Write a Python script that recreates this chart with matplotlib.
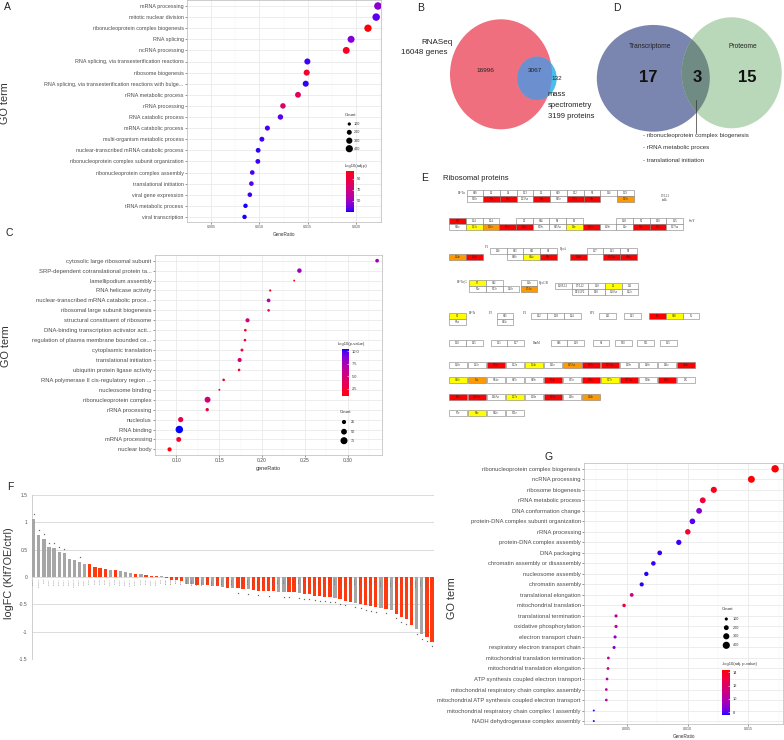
import numpy as np
import matplotlib
matplotlib.use("Agg")
import matplotlib.pyplot as plt
from matplotlib.colors import ListedColormap, Normalize
from matplotlib.patches import Ellipse, Rectangle
from matplotlib.cm import ScalarMappable

# ======================= DATA =======================
# Panel A (GO enrichment, transcriptome)
terms_A = ["mRNA processing", "mitotic nuclear division", "ribonucleoprotein complex biogenesis",
           "RNA splicing", "ncRNA processing", "RNA splicing, via transesterification reactions",
           "ribosome biogenesis", "RNA splicing, via transesterification reactions with bulge...",
           "rRNA metabolic process", "rRNA processing", "RNA catabolic process", "mRNA catabolic process",
           "multi-organism metabolic process", "nuclear-transcribed mRNA catabolic process",
           "ribonucleoprotein complex subunit organization", "ribonucleoprotein complex assembly",
           "translational initiation", "viral gene expression", "tRNA metabolic process", "viral transcription"]
ratio_A = [0.02228, 0.0221, 0.02125, 0.0195, 0.0190, 0.01497, 0.0149, 0.0148, 0.0140, 0.01244,
           0.01218, 0.01083, 0.01026, 0.00987, 0.00984, 0.00926, 0.00917, 0.00901, 0.00856, 0.00846]
count_A = [434, 431, 414, 380, 371, 292, 291, 289, 273, 243, 238, 211, 200, 192, 192, 181, 179, 176, 167, 165]
score_A = [45, 36, 104, 43, 99, 33, 97, 32, 82, 78, 36, 34, 33, 32, 33, 34, 36, 33, 31, 31]

# Panel C (GO enrichment, proteome)
terms_C = ["cytosolic large ribosomal subunit", "SRP-dependent cotranslational protein ta...",
           "lamellipodium assembly", "RNA helicase activity", "nuclear-transcribed mRNA catabolic proce...",
           "ribosomal large subunit biogenesis", "structural constituent of ribosome",
           "DNA-binding transcription activator acti...", "regulation of plasma membrane bounded ce...",
           "cytoplasmic translation", "translational initiation", "ubiquitin protein ligase activity",
           "RNA polymerase II cis-regulatory region ...", "nucleosome binding", "ribonucleoprotein complex",
           "rRNA processing", "nucleolus", "RNA binding", "mRNA processing", "nuclear body"]
ratio_C = [0.3345, 0.2437, 0.2376, 0.2096, 0.2077, 0.2077, 0.1831, 0.1805, 0.1801, 0.1766,
           0.1739, 0.1732, 0.1552, 0.1502, 0.1364, 0.1360, 0.1050, 0.1034, 0.1027, 0.0920]
count_C = [19, 29, 3, 5, 19, 8, 24, 8, 8, 11, 24, 8, 8, 3, 53, 15, 40, 85, 35, 24]
score_C = [8.0, 7.8, 1.5, 1.8, 7.0, 2.5, 5.0, 1.7, 1.7, 2.8, 4.5, 1.7, 1.8, 1.3, 5.0, 2.8, 3.0, 10.4, 2.0, 1.2]

# Panel G (GO enrichment)
terms_G = ["ribonucleoprotein complex biogenesis", "ncRNA processing", "ribosome biogenesis",
           "rRNA metabolic process", "DNA conformation change", "protein-DNA complex subunit organization",
           "rRNA processing", "protein-DNA complex assembly", "DNA packaging",
           "chromatin assembly or disassembly", "nucleosome assembly", "chromatin assembly",
           "translational elongation", "mitochondrial translation", "translational termination",
           "oxidative phosphorylation", "electron transport chain", "respiratory electron transport chain",
           "mitochondrial translation termination", "mitochondrial translation elongation",
           "ATP synthesis coupled electron transport", "mitochondrial respiratory chain complex assembly",
           "mitochondrial ATP synthesis coupled electron transport",
           "mitochondrial respiratory chain complex I assembly", "NADH dehydrogenase complex assembly"]
ratio_G = [0.0172, 0.01525, 0.01216, 0.01125, 0.01095, 0.0104, 0.01002, 0.00928, 0.00771, 0.00719,
           0.00661, 0.00623, 0.00541, 0.00478, 0.00412, 0.00412, 0.00404, 0.00396, 0.00349, 0.00346,
           0.00338, 0.00332, 0.00332, 0.00229, 0.00229]
count_G = [425, 377, 300, 278, 270, 257, 247, 229, 190, 178, 163, 154, 134, 118, 102, 102, 100, 98,
           86, 85, 83, 82, 82, 57, 57]
score_G = [14.3, 14.2, 14.0, 13.2, 8.8, 8.0, 13.5, 7.8, 7.8, 7.8, 7.7, 7.7, 11.0, 13.2, 10.3, 10.6,
           9.0, 8.8, 10.6, 10.6, 10.0, 10.5, 10.0, 7.8, 7.7]

# Panel B Venn
venn_B_only_rna = 16996
venn_B_both = 3067
venn_B_only_ms = 132
# Panel D Venn
venn_D_trans = 17
venn_D_both = 3
venn_D_prot = 15
shared_terms_D = ["ribonucleoprotein complex biogenesis", "rRNA metabolic proces", "translational initiation"]

# Panel E ribosome map (highlighted proteins)
red_E = {"L3e", "L4e", "L8e", "L17e", "S3e", "S17", "L21e", "L11e", "L32e", "S2e", "L7e", "L14e",
         "S9e", "L18e", "L13Ae", "S16e", "L9", "L15e", "L37e", "L37Ae", "L44e", "S24e", "S26e",
         "S27Ae", "S30e", "L6e", "L18Ae", "L29e"}
orange_E = {"L35e", "L26e", "L34e", "L7Ae", "S6e", "L35Ae", "L38e"}
yellow_E = {"L23e", "L9e", "S14e", "S7", "L1", "S2", "S18", "L24e", "S10e", "S27e", "L27e", "S8e"}
row1_top = ["S10", "L3", "L4", "L23", "L2", "S19", "L22", "S3", "L16", "L29"]
row1_bot = ["S20e", "L3e", "L4e", "L23Ae", "L8e", "S15e", "L17e", "S3e", None, "L35e"]
row2_top = ["S17", "L14", "L24", None, "L5", "S14", "S8", "L6", None, None, "L18", "S5", "L30", "L15"]
row2_bot = ["S11e", "L23e", "L26e", "L21e", "L11e", "S29e", "S15Ae", "L9e", "L32e", "L19e", "L5e",
            "S2e", "L7e", "L27Ae"]
row3a_bot = ["L34e", "L14e"]
row3b_top = ["L36", "S13", "S11", "S4"]
row3b_bot = [None, "S18e", "S14e", "S9e"]
row3c_top = [None, "L17", "L13", "S9"]
row3c_bot = ["L18e", None, "L13Ae", "S16e"]
row4a_top = ["S7", "S12", None]
row4a_bot = ["S5e", "S23e", "L30e"]
row4b_top = ["L1b"]
row4b_bot = ["L7Ae"]
row4c_top = ["L10/L12", "L7/L12", "L10", "L1", "L11"]
row4c_bot = [None, "LP1/LP2", "LP0", "L10Ae", "L12e"]
row5_singles = [["L32", "L28", "L34"], ["L31"], ["L33"], ["L9", "S18", "S6"]]
row6_singles = [["L20", "L35"], ["L21", "L27"], ["S16", "L19"], ["S1"], ["S20"], ["S21"], ["L25"]]
row7 = ["L10e", "L13e", "L15e", "L22e", "L24e", "L31e", "L35Ae", "L37e", "L37Ae", "L39e", "L40e", "L41e", "L44e"]
row8 = ["S10e", "S6e", "S3Ae", "S17e", "S19e", "S24e", "S25e", "S26e", "S27e", "S27Ae", "S28e", "S30e", "LX"]
row9 = ["L6e", "L18Ae", "L36Ae", "L27e", "L28e", "L29e", "L36e", "L38e"]
row10 = ["S7e", "S8e", "S12e", "S21e"]

# Panel F (logFC of ribosomal genes)
fc_genes = ["RPS29", "RPS6KA3", "RPS6", "RPS12", "RPS18", "RPS27", "RPS21", "RPS4X", "RPS6KA4", "RPS10",
            "RPS15", "RPL13", "RPL22", "RPL35", "RPL31", "RPS24", "RPL18", "RPS13", "RPS23", "RPS27A",
            "RPLP1", "RPL15", "RPL36", "RPLP2", "RPS19", "RPL3", "RPL37", "RPL39", "RPS3", "RPS11",
            "RPS8", "RPS16", "RPS14", "RPS25", "RPL7", "RPS17", "RPS9", "RPL10", "RPS26", "RPL11",
            "RPL36A", "RPS5", "RPL32", "RPS28", "RPL27", "RPS20", "RPL23", "RPL26", "RPL4", "RPS7",
            "RPL29", "RPL34", "RPS2", "RPL12", "RPL13A", "RPL14", "RPS3A", "RPL9", "RPL24", "RPL30",
            "RPL6", "RPL18A", "RPL8", "RPL19", "RPL28", "RPL37A", "RPL21", "RPL38", "RPL35A", "RPL41",
            "RPL27A", "RPL10A", "RPL5", "RPL7A", "RPL17", "RPL26L1", "RPLP0", "RPL22L1", "RPL39L"]
fc_values = [1.07, 0.77, 0.70, 0.54, 0.53, 0.46, 0.43, 0.33, 0.32, 0.28, 0.24, 0.24, 0.18, 0.16, 0.15,
             0.13, 0.12, 0.11, 0.09, 0.07, 0.06, 0.05, 0.03, 0.025, 0.02, 0.01,
             -0.02, -0.05, -0.06, -0.07, -0.12, -0.13, -0.14, -0.15, -0.15, -0.17, -0.17, -0.18, -0.20,
             -0.20, -0.21, -0.22, -0.22, -0.23, -0.25, -0.26, -0.26, -0.26, -0.27, -0.28, -0.28, -0.28,
             -0.29, -0.31, -0.32, -0.34, -0.35, -0.36, -0.37, -0.38, -0.40, -0.43, -0.45, -0.47, -0.49,
             -0.51, -0.53, -0.55, -0.57, -0.58, -0.60, -0.67, -0.73, -0.77, -0.87, -0.95, -1.05, -1.09, -1.18]
fc_group = list("ggggggggggg" "rrrr" "g" "r" "ggg" "r" "g" "rrr" "g"
                "rrrr" "gg" "r" "g" "r" "g" "r" "g" "r" "g" "rr" "g" "rrrrr" "gg" "rr" "g"
                "rrrrrr" "g" "rrr" "g" "rrrr" "g" "r" "g" "rrrr" "gg" "rr")
fc_sig = [1, 1, 1, 1, 1, 1, 1, 0, 0, 1, 0, 0, 0, 0, 0, 0, 0, 0, 0, 0, 0, 0, 0, 0, 0, 0,
          0, 0, 0, 0, 0, 0, 0, 0, 0, 0, 0, 0, 0, 0, 1, 0, 1, 0, 1, 0, 1, 0, 0, 1, 1, 0,
          1, 1, 1, 1, 1, 1, 1, 1, 1, 1, 0, 1, 1, 1, 1, 1, 0, 1, 0, 1, 1, 1, 0, 1, 1, 1, 1]
fc_yticks = [-1.5, -1, -0.5, 0, 0.5, 1, 1.5]
fc_yticklabels = ["-1.5", "-1", "-0.5", "0", "0.5", "1", "1.5"]

# ======================= FIGURE =======================
W, H = 784, 740
plt.rcParams['font.family'] = ['Liberation Sans', 'DejaVu Sans']
fig = plt.figure(figsize=(W / 100, H / 100), dpi=100)


def ax_px(x0, y0, x1, y1, **kw):
    return fig.add_axes([x0 / W, 1 - y1 / H, (x1 - x0) / W, (y1 - y0) / H], **kw)


# overlay axes in pixel coordinates
ov = ax_px(0, 0, W, H)
ov.set_xlim(0, W)
ov.set_ylim(H, 0)
ov.axis('off')
ov.set_zorder(10)
ov.patch.set_visible(False)

# ggplot-like blue->red gradient (interpolated in CIELAB)
_M = np.array([[0.4124, 0.3576, 0.1805], [0.2126, 0.7152, 0.0722], [0.0193, 0.1192, 0.9505]])
_WP = np.array([0.95047, 1.0, 1.08883])


def srgb_to_lab(rgb):
    c = np.asarray(rgb, float)
    lin = np.where(c <= 0.04045, c / 12.92, ((c + 0.055) / 1.055) ** 2.4)
    t = (_M @ lin) / _WP
    f = np.where(t > (6 / 29) ** 3, np.cbrt(t), t / (3 * (6 / 29) ** 2) + 4 / 29)
    return np.array([116 * f[1] - 16, 500 * (f[0] - f[1]), 200 * (f[1] - f[2])])


def lab_to_srgb(lab):
    L, a, b = lab
    fy = (L + 16) / 116
    f = np.array([fy + a / 500, fy, fy - b / 200])
    t = np.where(f > 6 / 29, f ** 3, 3 * (6 / 29) ** 2 * (f - 4 / 29))
    lin = np.clip(np.linalg.inv(_M) @ (t * _WP), 0, 1)
    c = np.where(lin <= 0.0031308, 12.92 * lin, 1.055 * lin ** (1 / 2.4) - 0.055)
    return np.clip(c, 0, 1)


_lb, _lr = srgb_to_lab([0, 0, 1]), srgb_to_lab([1, 0, 0])
cmap = ListedColormap([lab_to_srgb(_lb + t * (_lr - _lb)) for t in np.linspace(0, 1, 256)])
cmap_r = cmap.reversed()

TXT = '#4d4d4d'


def dotplot(box, rows_px, terms, ratio, count, score, xlim, xticks, xtl, tickfs, labfs,
            xlabel, xlabfs, vlim, s_a, s_b, cm):
    x0, y0, x1, y1 = box
    r0, step = rows_px
    ax = ax_px(x0, y0, x1, y1)
    y = np.arange(len(terms))
    sizes = np.clip(s_a + s_b * np.array(count, float), 0.8, None)
    ax.scatter(ratio, y, s=sizes, c=score, cmap=cm, vmin=vlim[0], vmax=vlim[1],
               edgecolors='none', zorder=3)
    ax.set_yticks(y)
    ax.set_yticklabels(terms, fontsize=labfs, color=TXT)
    ax.set_ylim((y1 - r0) / step, (y0 - r0) / step)
    ax.set_xlim(*xlim)
    ax.set_xticks(xticks)
    ax.set_xticklabels(xtl, fontsize=tickfs, color=TXT)
    mids = [(a + b) / 2 for a, b in zip(xticks[:-1], xticks[1:])]
    d = xticks[1] - xticks[0]
    ax.set_xticks([xticks[0] - d / 2] + mids + [xticks[-1] + d / 2], minor=True)
    ax.grid(True, which='major', color='#e6e6e6', lw=0.5)
    ax.grid(True, which='minor', axis='x', color='#f3f3f3', lw=0.35)
    ax.set_axisbelow(True)
    ax.tick_params(axis='both', which='major', length=1.5, width=0.4, color='#444444', pad=1)
    ax.tick_params(which='minor', length=0)
    for sp in ax.spines.values():
        sp.set_color('#b8b8b8')
        sp.set_linewidth(0.5)
    ax.set_xlabel(xlabel, fontsize=xlabfs, labelpad=1.5, color='#333333')
    return ax


def colorbar(box, vlim, ticks, tlabels, title, title_xy, cm):
    cax = ax_px(*box)
    sm = ScalarMappable(norm=Normalize(*vlim), cmap=cm)
    cb = fig.colorbar(sm, cax=cax)
    cb.outline.set_visible(False)
    cb.set_ticks(ticks)
    cb.set_ticklabels(tlabels)
    cax.tick_params(length=1.2, width=0.4, color='white', direction='in', labelsize=2.8,
                    pad=1.8, labelcolor='#333333')
    ov.text(title_xy[0], title_xy[1], title, fontsize=3.0, ha='left', va='center', color='#333333')
    return cax


def size_legend(title_xy, vals, ys, dot_x, lab_x, s_a, s_b):
    ov.text(title_xy[0], title_xy[1], "Count", fontsize=3.2, ha='left', va='center', color='#333333')
    ov.scatter([dot_x] * len(vals), ys, s=s_a + s_b * np.array(vals, float), color='black',
               edgecolors='none')
    for v, yy in zip(vals, ys):
        ov.text(lab_x, yy, str(v), fontsize=2.7, ha='left', va='center', color='#333333')


# ---------------- Panel A ----------------
sA = (-1.6, 0.071)
dotplot((187, 0, 381, 222), (6, 11.1), terms_A, ratio_A, count_A, score_A,
        (0.00394, 0.0226), [0.005, 0.010, 0.015, 0.020], ["0.005", "0.010", "0.015", "0.020"],
        2.6, 3.9, "GeneRatio", 3.3, (30.5, 105), *sA, cmap)
size_legend((345, 115), [100, 200, 300, 400], [124, 132.3, 140.7, 148.7], 349.3, 354, *sA)
colorbar((345.7, 170.7, 354, 211.7), (30.5, 105), [50, 70, 90], ["50", "70", "90"],
         "-log10(adj.p)", (345, 165.5), cmap)

# ---------------- Panel C ----------------
sC = (0.9, 0.33)
dotplot((155, 255, 382, 455), (260.7, 9.93), terms_C, ratio_C, count_C, score_C,
        (0.0793, 0.3402), [0.10, 0.15, 0.20, 0.25, 0.30], ["0.10", "0.15", "0.20", "0.25", "0.30"],
        3.6, 4.2, "geneRatio", 4.0, (1.0, 10.4), *sC, cmap_r)
colorbar((341.7, 349.3, 349, 396), (1.0, 10.4), [2.5, 5.0, 7.5, 10.0], ["2.5", "5.0", "7.5", "10.0"],
         "-log10(p-value)", (338, 344), cmap_r)
size_legend((340, 411.7), [25, 50, 75], [422, 431.7, 440.7], 344, 351, *sC)

# ---------------- Panel G ----------------
sG = (-2.1, 0.072)
dotplot((584.3, 462.7, 783, 724), (468.8, 10.51), terms_G, ratio_G, count_G, score_G,
        (0.00151, 0.01785), [0.005, 0.010, 0.015], ["0.005", "0.010", "0.015"],
        2.6, 4.2, "GeneRatio", 3.3, (7.6, 14.35), *sG, cmap)
size_legend((722, 609), [100, 200, 300, 400], [619, 627.7, 636.3, 645.3], 726.3, 733, *sG)
colorbar((721.7, 670, 730, 715), (7.6, 14.35), [8, 10, 12, 14], ["8", "10", "12", "14"],
         "-log10(adj. p-value)", (722, 664), cmap)

# ---------------- Panel F ----------------
axF = ax_px(31.7, 495, 434, 659)
xF = np.arange(len(fc_values))
valsF = np.array(fc_values)
colF = ['#a6a6a6' if g == 'g' else '#ff3a10' for g in fc_group]
axF.bar(xF, valsF, width=0.64, color=colF, zorder=3)
sig = np.array(fc_sig, bool)
axF.scatter(xF[sig], valsF[sig] + np.sign(valsF[sig]) * 0.085, marker='*', s=2.5,
            color='#555555', linewidths=0, zorder=4)
for xi, (g, v) in enumerate(zip(fc_genes, fc_values)):
    axF.text(xi, -0.02, g, rotation=90, fontsize=1.5, ha='center', va='top',
             color='#8a8a8a' if v > 0 else '#5a5a5a', zorder=5)
axF.set_xlim(-0.39, 78.39)
axF.set_ylim(-1.5, 1.5)
axF.set_yticks(fc_yticks)
axF.set_yticklabels(fc_yticklabels, fontsize=3.6, color='#555555')
axF.set_xticks([])
axF.grid(True, axis='y', color='#d6d6d6', lw=0.6)
axF.set_axisbelow(True)
axF.tick_params(axis='y', length=0, pad=3)
for k in ('top', 'right', 'bottom'):
    axF.spines[k].set_visible(False)
axF.spines['left'].set_color('#c8c8c8')
axF.spines['left'].set_linewidth(0.6)

# ---------------- Axis titles & panel letters ----------------
ov.text(5.5, 103, "GO term", rotation=90, fontsize=7.8, ha='center', va='center', color='#333333')
ov.text(6, 345.7, "GO term", rotation=90, fontsize=7.8, ha='center', va='center', color='#333333')
ov.text(452, 597.7, "GO term", rotation=90, fontsize=7.8, ha='center', va='center', color='#333333')
ov.text(9, 573, "logFC (Klf7OE/ctrl)", rotation=90, fontsize=7.8, ha='center', va='center',
        color='#333333')
for lab, (px, py) in {"A": (7, 7), "B": (421, 8), "C": (9, 233), "D": (617, 8), "E": (425, 178),
                      "F": (10, 487), "G": (549, 457)}.items():
    ov.text(px, py, lab, fontsize=7.5, ha='center', va='center', color='#222222')

# ---------------- Panel B Venn ----------------
pinkB = Ellipse((501, 74.3), 102, 110, facecolor='#ef6f7e', edgecolor='none')
ov.add_patch(pinkB)
ov.add_patch(Ellipse((537, 78.3), 39.4, 43.3, facecolor='#4bbdec', edgecolor='none'))
ovl = Ellipse((537, 78.3), 39.4, 43.3, facecolor='#6b8fcf', edgecolor='none')
ov.add_patch(ovl)
ovl.set_clip_path(pinkB)
ov.text(453, 42, "RNASeq", fontsize=5.8, ha='right', va='center', color='#222222')
ov.text(448, 52.5, "16048 genes", fontsize=5.8, ha='right', va='center', color='#222222')
ov.text(485, 71, f"{venn_B_only_rna}", fontsize=4.6, ha='center', va='center', color='#222222')
ov.text(535, 71, f"{venn_B_both}", fontsize=4.6, ha='center', va='center', color='#222222')
ov.text(557, 78, f"{venn_B_only_ms}", fontsize=4.6, ha='center', va='center', color='#222222')
for i, t in enumerate(["mass", "spectrometry", "3199 proteins"]):
    ov.text(548, 94.5 + 11 * i, t, fontsize=5.5, ha='left', va='center', color='#222222')

# ---------------- Panel D Venn ----------------
tr = Ellipse((653.3, 78.3), 113, 106.7, facecolor='#7a86af', edgecolor='none')
ov.add_patch(tr)
ov.add_patch(Ellipse((731.7, 72.8), 100, 111, facecolor='#b9d8b9', edgecolor='none'))
ovD = Ellipse((731.7, 72.8), 100, 111, facecolor='#6f8b84', edgecolor='none')
ov.add_patch(ovD)
ovD.set_clip_path(tr)
ov.text(650, 47, "Transcriptome", fontsize=4.8, ha='center', va='center', color='#222222')
ov.text(743, 47, "Proteome", fontsize=4.8, ha='center', va='center', color='#222222')
ov.text(648, 78, f"{venn_D_trans}", fontsize=12, fontweight='bold', ha='center', va='center', color='#111111')
ov.text(697, 78, f"{venn_D_both}", fontsize=12, fontweight='bold', ha='center', va='center', color='#111111')
ov.text(747, 78, f"{venn_D_prot}", fontsize=12, fontweight='bold', ha='center', va='center', color='#111111')
ov.plot([696, 696], [100, 133], color='#333333', lw=0.5)
for i, t in enumerate(shared_terms_D):
    ov.text(643, 135.5 + 12.3 * i, "- " + t, fontsize=4.4, ha='left', va='center', color='#333333')

# ---------------- Panel E ribosome map ----------------
ov.text(443, 178, "Ribosomal proteins", fontsize=5.5, ha='left', va='center', color='#222222')


def ecolor(lab):
    if lab in red_E:
        return '#ff0000'
    if lab in orange_E:
        return '#ff9900'
    if lab in yellow_E:
        return '#ffff00'
    return 'white'


def ebox(x, y, lab, w=16.7, h=6.0):
    ov.add_patch(Rectangle((x, y), w, h, facecolor=ecolor(lab), edgecolor='#7f7f7f', lw=0.4))
    ov.text(x + w / 2, y + h / 2, lab, fontsize=2.1, family=['Liberation Serif', 'DejaVu Serif'],
            ha='center', va='center', color='#222222')


def egroup(x0, y0, top, bottom=None, w=16.7, h=6.0):
    for i, lab in enumerate(top):
        if lab:
            ebox(x0 + i * w, y0, lab, w, h)
    if bottom:
        for i, lab in enumerate(bottom):
            if lab:
                ebox(x0 + i * w, y0 + h, lab, w, h)


def elabel(x, y, t, ha='left'):
    ov.text(x, y, t, fontsize=2.2, family=['Liberation Serif', 'DejaVu Serif'], ha=ha, va='center',
            color='#333333')


egroup(466.7, 190, row1_top, row1_bot)
elabel(465.5, 193, "EF-Tu", 'right')
ov.text(665, 198, "L7/L12\nstalk", fontsize=2.2, family=['Liberation Serif', 'DejaVu Serif'],
        ha='center', va='center', color='#333333', linespacing=1.0)
egroup(449.3, 217.7, row2_top, row2_bot)
elabel(688.3, 220.7, "SecY")
egroup(449.3, 248.3, [None, None], row3a_bot)
egroup(490, 248.3, row3b_top, row3b_bot)
elabel(489, 247.3, "IF1", 'right')
egroup(570, 248.3, row3c_top, row3c_bot)
elabel(560, 249.3, "RpoA")
egroup(469.3, 280, row4a_top, row4a_bot)
egroup(520.7, 280, row4b_top, row4b_bot)
elabel(468, 282, "EF-Tu,G", 'right')
elabel(538.5, 283, "RpoC/B")
egroup(555, 282.7, row4c_top, row4c_bot)
egroup(449.3, 313.3, ["S2"], ["SAe"])
elabel(468.5, 313.3, "EF-Ts")
egroup(496.7, 313.3, ["S15"], ["S13e"])
elabel(489, 313.3, "IF3")
elabel(523, 313.3, "IF2")
elabel(590, 313.3, "RP1")
for x0, labs in zip([530.7, 599.3, 624, 649.3], row5_singles):
    egroup(x0, 313.3, labs)
for x0, labs in zip([449.3, 490.7, 550.7, 592.7, 615, 637.3, 660], row6_singles):
    egroup(x0, 340, labs)
elabel(533.3, 343, "RimM")
for yrow, labs in zip([361.7, 377.3, 394, 410], [row7, row8, row9, row10]):
    for k, lab in enumerate(labs):
        ebox(449.3 + k * 19.0, yrow, lab, w=17.3)

fig.savefig("out.png", dpi=100)
